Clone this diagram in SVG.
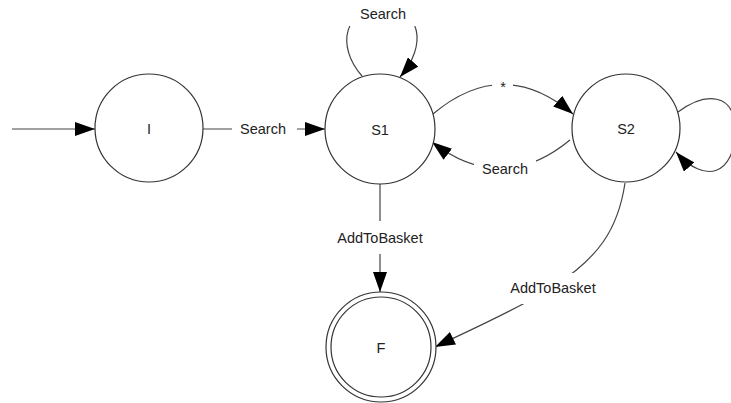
<svg xmlns="http://www.w3.org/2000/svg" width="731" height="403" viewBox="0 0 731 403">
<style>
.node{fill:#fff;stroke:#333;stroke-width:1.2}
.edge{fill:none;stroke:#444;stroke-width:1.2}
.bg{fill:#fff;stroke:none}
text{font-family:"Liberation Sans",Arial,sans-serif;font-size:14.5px;fill:#222;text-anchor:middle}
</style>
<defs>
<marker id="arr" viewBox="0 0 20 14" refX="20" refY="7" markerWidth="20" markerHeight="14" markerUnits="userSpaceOnUse" orient="auto">
<path d="M0,0 L20,7 L0,14 z" fill="#000"/>
</marker>
</defs>
<g id="connectors">
<path class="edge" d="M12,129 L95,129" marker-end="url(#arr)"/>
<path class="edge" d="M203,129 L325,129" marker-end="url(#arr)"/>
<rect class="bg" x="232" y="118" width="65" height="22"/>
<text x="263" y="134">Search</text>
<path class="edge" d="M362,76 C335,45 345,8 383,8 C421,8 428,45 400,77" marker-end="url(#arr)"/>
<rect class="bg" x="344" y="0" width="78" height="26"/>
<text x="383" y="19">Search</text>
<path class="edge" d="M433,114 Q503,55 573,114" marker-end="url(#arr)"/>
<rect class="bg" x="492" y="75" width="21" height="17"/>
<text x="503" y="92">*</text>
<path class="edge" d="M570,140 Q502,196 432,142" marker-end="url(#arr)"/>
<rect class="bg" x="474" y="159" width="62" height="21"/>
<text x="505" y="174">Search</text>
<path class="edge" d="M678,112 C705,92 735,92 735,130 C735,175 705,185 676,152" marker-end="url(#arr)"/>
<path class="edge" d="M380,183 L380,292" marker-end="url(#arr)"/>
<rect class="bg" x="335" y="221" width="90" height="33"/>
<text x="380" y="243">AddToBasket</text>
<path class="edge" d="M625,183 C618,230 598,258 553,287 C520,308 470,330 435,347" marker-end="url(#arr)"/>
<rect class="bg" x="507" y="273" width="92" height="31"/>
<text x="553" y="293">AddToBasket</text>
</g>
<g id="node-I">
<circle class="node" cx="149" cy="128" r="54"/>
<text x="149" y="134">I</text>
</g>
<g id="node-S1">
<circle class="node" cx="380" cy="129" r="55"/>
<text x="380" y="135">S1</text>
</g>
<g id="node-S2">
<circle class="node" cx="626" cy="128" r="54"/>
<text x="626" y="134">S2</text>
</g>
<g id="node-F">
<circle class="node" cx="381" cy="347" r="55"/>
<circle class="node" cx="381" cy="347" r="50"/>
<text x="381" y="353">F</text>
</g>
</svg>
